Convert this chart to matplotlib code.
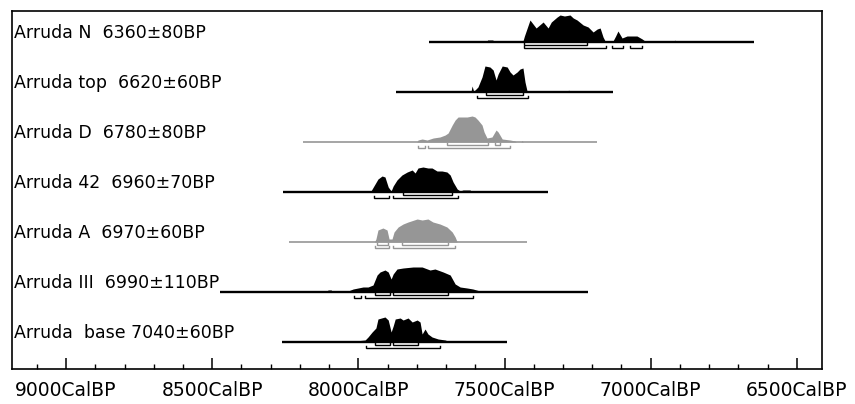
import numpy as np
import matplotlib
matplotlib.use('Agg')
import matplotlib.pyplot as plt
from matplotlib.ticker import MultipleLocator, FuncFormatter
from matplotlib.transforms import blended_transform_factory

# sample labels, top to bottom
labels = ['Arruda N  6360\u00b180BP', 'Arruda top  6620\u00b160BP', 'Arruda D  6780\u00b180BP',
          'Arruda 42  6960\u00b170BP', 'Arruda A  6970\u00b160BP', 'Arruda III  6990\u00b1110BP',
          'Arruda  base 7040\u00b160BP']
grey_rows = [2, 4]

# full calibrated extent (cal BP) of each row
extent_start = [7758, 7871, 8189, 8258, 8237, 8473, 8261]
extent_end = [6646, 7129, 7183, 7351, 7423, 7214, 7491]

# probability curves (cal BP, relative height)
n_years = [7562, 7558, 7540, 7536, 7508, 7437, 7432, 7413, 7392, 7368, 7351, 7340, 7320, 7310, 7295,
           7276, 7265, 7252, 7231, 7214, 7197, 7183, 7173, 7163, 7156, 7129, 7120, 7112, 7098, 7081,
           7047, 7029, 7020, 6944, 6940, 6922, 6918, 6914]
n_dens = [0, 2, 2, 0, 1, 1, 6, 22, 14, 20, 14, 20, 25, 27, 26,
          27, 24, 22, 17, 15, 10, 13, 14, 5, 1, 1, 6, 11, 4, 6,
          6, 3, 1, 1, 0, 0, 2, 0]

top_years = [7615, 7611, 7606, 7601, 7591, 7577, 7567, 7550, 7539, 7529, 7522, 7508, 7491, 7481,
             7471, 7457, 7447, 7437, 7430, 7423, 7418, 7285, 7281, 7276]
top_dens = [0, 6, 1, 2, 5, 15, 26, 25, 22, 12, 18, 26, 25, 20,
            17, 20, 23, 24, 10, 1, 0, 0, 2, 0]

d_years = [7800, 7796, 7782, 7765, 7744, 7721, 7703, 7693, 7679, 7669, 7659, 7628, 7611, 7601,
           7591, 7577, 7570, 7560, 7543, 7529, 7522, 7508, 7481, 7464, 7460, 7444, 7440, 7436]
d_dens = [0, 2, 3, 2, 4, 5, 7, 9, 17, 22, 25, 25, 26, 25,
          22, 17, 10, 4, 5, 12, 10, 3, 2, 1, 0, 0, 1.5, 0]

s42_years = [7960, 7957, 7943, 7933, 7919, 7909, 7898, 7888, 7881, 7868, 7851, 7833, 7816, 7806,
             7796, 7779, 7762, 7748, 7731, 7714, 7697, 7686, 7676, 7662, 7652, 7642, 7618, 7611]
s42_dens = [0, 1, 8, 13, 16, 15, 5, 1, 6, 12, 17, 20, 22, 19,
            24, 25, 24, 24, 21, 21, 20, 17, 10, 3, 1, 2, 2, 0]

a_years = [7945, 7940, 7933, 7916, 7902, 7895, 7885, 7878, 7864, 7847, 7830, 7799, 7782, 7762,
           7745, 7721, 7697, 7679, 7669, 7662]
a_dens = [0, 3, 12, 14, 12, 3, 3, 10, 15, 18, 20, 23, 22, 23,
          20, 18, 15, 10, 5, 0]

iii_years = [8108, 8104, 8093, 8089, 8040, 8035, 8018, 8001, 7984, 7967, 7950, 7936, 7926, 7909,
             7898, 7888, 7881, 7868, 7847, 7813, 7782, 7755, 7738, 7710, 7686, 7669, 7652, 7628,
             7608, 7584, 7577]
iii_dens = [0, 2, 2, 0, 0, 1, 3, 4, 5, 5, 7, 17, 20, 22,
            20, 13, 18, 23, 24, 25, 25, 22, 23, 20, 17, 8, 5, 4,
            3, 1, 0]

base_years = [8015, 8011, 7977, 7967, 7953, 7940, 7933, 7909, 7898, 7888, 7881, 7874, 7857, 7847,
              7830, 7816, 7799, 7789, 7782, 7772, 7762, 7748, 7727, 7703, 7686]
base_dens = [0, 1, 2, 5, 10, 14, 23, 25, 22, 10, 16, 23, 24, 22,
             24, 20, 22, 20, 8, 13, 8, 5, 3, 2, 0]

curve_years = [n_years, top_years, d_years, s42_years, a_years, iii_years, base_years]
curve_dens = [n_dens, top_dens, d_dens, s42_dens, a_dens, iii_dens, base_dens]

# 68.2% and 95.4% ranges (cal BP)
range68 = [[(7433, 7218)], [(7565, 7437)], [(7697, 7556), (7532, 7515)], [(7847, 7679)],
           [(7936, 7898), (7851, 7693)], [(7943, 7892), (7881, 7693)], [(7943, 7892), (7881, 7796)]]
range95 = [[(7433, 7153), (7132, 7095), (7071, 7030)], [(7594, 7420)], [(7796, 7772), (7762, 7481)],
           [(7946, 7895), (7881, 7659)], [(7943, 7895), (7881, 7669)], [(8015, 7991), (7977, 7608)],
           [(7974, 7721)]]

fig = plt.figure(figsize=(8.55, 4.04), dpi=100)
ax = fig.add_axes([12 / 855, 1 - 369 / 404, 810 / 855, 358 / 404])
ax.set_xlim(9185, 6414)
ax.set_ylim(6.54, -0.62)

scale = 1 / 50.0
lab_tr = blended_transform_factory(ax.transAxes, ax.transData)

for i, lab in enumerate(labels):
    col = '#969696' if i in grey_rows else 'black'
    lw = 1.2 if i in grey_rows else 1.7
    ax.hlines(i, extent_start[i], extent_end[i], color=col, lw=lw)
    yrs = np.array(curve_years[i], dtype=float)
    h = np.array(curve_dens[i], dtype=float) * scale
    ax.fill_between(yrs, i, i - h, color=col, lw=0)
    for yoff, ranges in ((0.05, range68[i]), (0.12, range95[i])):
        for a, b in ranges:
            ax.plot([a, a, b, b], [yoff + i - 0.04, yoff + i, yoff + i, yoff + i - 0.04],
                    color=col, lw=1.0, solid_joinstyle='miter')
    ax.text(0.003, i - 0.19, lab, transform=lab_tr, va='center', ha='left',
            fontsize=12.5, color='black')

ax.xaxis.set_major_locator(MultipleLocator(500))
ax.xaxis.set_minor_locator(MultipleLocator(100))
ax.xaxis.set_major_formatter(FuncFormatter(lambda v, p: f"{int(round(v))}CalBP"))
ax.tick_params(axis='x', which='major', direction='in', length=8, width=1.1, pad=9, labelsize=13.5)
ax.tick_params(axis='x', which='minor', direction='in', length=3.8, width=1.0)
ax.set_yticks([])
for sp in ax.spines.values():
    sp.set_linewidth(1.2)

fig.savefig('out.png', dpi=100)
